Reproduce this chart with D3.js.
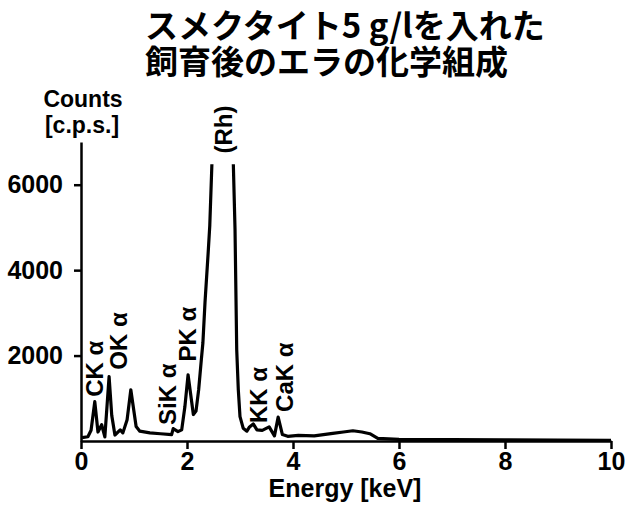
<!DOCTYPE html>
<html>
<head>
<meta charset="utf-8">
<script src="https://cdn.jsdelivr.net/npm/d3@7"></script>
<style>
  body { margin: 0; background: #fff; }
  text { font-family: "Liberation Sans", Arial, sans-serif; font-weight: bold; fill: #000; }
  .title { font-family: "Noto Sans CJK JP", sans-serif; font-weight: bold; }
</style>
</head>
<body>
<div id="chart"></div>
<script>
// spectrum (keV, counts)
var energy = [0.02, 0.13, 0.19, 0.26, 0.32, 0.39, 0.45, 0.53, 0.58, 0.64, 0.74, 0.79, 0.87, 0.94, 1.04, 1.11, 1.3, 1.5, 1.71, 1.74, 1.83, 1.9, 1.96, 2.02, 2.12, 2.17, 2.22, 2.27, 2.3, 2.34, 2.4, 2.43, 2.47, 2.52, 2.68, 2.84, 2.874, 2.906, 2.938, 2.968, 3.0, 3.06, 3.13, 3.18, 3.25, 3.32, 3.42, 3.55, 3.65, 3.72, 3.8, 3.9, 4.1, 4.4, 4.75, 4.95, 5.13, 5.3, 5.45, 5.6, 6, 7, 8, 9, 10];
var counts = [80, 100, 250, 920, 210, 380, 95, 1510, 600, 140, 260, 190, 500, 1200, 340, 230, 190, 170, 150, 290, 220, 260, 800, 1550, 620, 700, 1200, 1900, 2300, 3250, 4420, 5050, 6490, 9000, 14000, 9000, 6490, 4960, 2140, 1200, 570, 300, 230, 330, 400, 260, 250, 330, 120, 560, 150, 110, 130, 120, 180, 210, 240, 210, 170, 60, 40, 30, 25, 20, 15];

// peak labels: name, energy at label centre, counts at label foot
var peakNames = ["CK α", "OK α", "SiK α", "PK α", "(Rh)", "KK α", "CaK α"];
var peakEnergy = [0.245, 0.70, 1.62, 2.01, 2.68, 3.34, 3.83];
var peakCounts = [1035, 1670, 376, 1860, 6730, 420, 680];

var xTicks = [0, 2, 4, 6, 8, 10];
var yTicks = [2000, 4000, 6000];
var titleLines = ["スメクタイト5 g/lを入れた", "飼育後のエラの化学組成"];

var W = 641, H = 518;
var svg = d3.select("#chart").append("svg")
    .attr("width", W)
    .attr("height", H);

var x = d3.scaleLinear().domain([0, 10]).range([81, 611]);
var y = d3.scaleLinear().domain([0, 7000]).range([441, 142]);
var cutTop = 6480; // Rh peak goes off scale

// title
svg.selectAll("text.title")
    .data(titleLines)
    .enter().append("text")
    .attr("class", "title")
    .attr("x", 145)
    .attr("y", function(d, i) { return 38 + i * 36; })
    .style("font-size", "33px")
    .text(function(d) { return d; });

// y unit
svg.append("text")
    .attr("x", 83).attr("y", 107)
    .attr("text-anchor", "middle")
    .style("font-size", "23px")
    .text("Counts");
svg.append("text")
    .attr("x", 82).attr("y", 133)
    .attr("text-anchor", "middle")
    .style("font-size", "23px")
    .text("[c.p.s.]");

// clip for the truncated peak
svg.append("clipPath").attr("id", "cut")
    .append("rect")
    .attr("x", 0).attr("y", y(cutTop))
    .attr("width", W).attr("height", H);

var line = d3.line()
    .x(function(d, i) { return x(energy[i]); })
    .y(function(d) { return y(d); });

svg.append("path")
    .datum(counts)
    .attr("clip-path", "url(#cut)")
    .attr("fill", "none")
    .attr("stroke", "#000")
    .attr("stroke-width", 3.2)
    .attr("stroke-linejoin", "round")
    .attr("d", line);

// axes
var xAxis = svg.append("g")
    .attr("transform", "translate(0," + y(0) + ")")
    .call(d3.axisBottom(x).tickValues(xTicks).tickSize(8).tickSizeOuter(0).tickPadding(3).tickFormat(d3.format("d")));
var yAxis = svg.append("g")
    .attr("transform", "translate(" + x(0) + ",0)")
    .call(d3.axisLeft(y).tickValues(yTicks).tickSize(7).tickSizeOuter(0).tickPadding(11).tickFormat(d3.format("d")));

[xAxis, yAxis].forEach(function(a) {
    a.select(".domain").attr("stroke-width", 2.5);
    a.selectAll(".tick line").attr("stroke-width", 2.5);
    a.selectAll(".tick text").style("font-size", "25px").style("font-family", "'Liberation Sans', Arial, sans-serif").style("font-weight", "bold");
});

svg.append("text")
    .attr("x", 345).attr("y", 497)
    .attr("text-anchor", "middle")
    .style("font-size", "25px")
    .text("Energy [keV]");

// vertical peak labels
svg.selectAll("text.peak")
    .data(peakNames)
    .enter().append("text")
    .attr("class", "peak")
    .attr("transform", function(d, i) {
        return "translate(" + x(peakEnergy[i]) + "," + y(peakCounts[i]) + ") rotate(-90)";
    })
    .attr("dy", "0.36em")
    .style("font-size", "24px")
    .text(function(d) { return d; });
</script>
</body>
</html>
